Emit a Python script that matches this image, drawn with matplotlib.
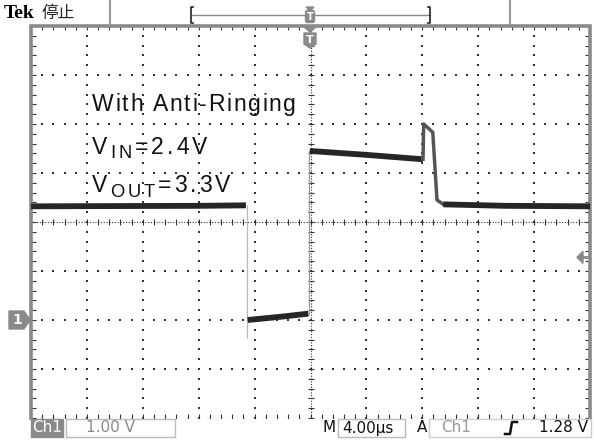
import numpy as np
import matplotlib
matplotlib.use('Agg')
import matplotlib.pyplot as plt
from matplotlib.patches import Rectangle, Polygon, FancyBboxPatch
from matplotlib import font_manager
from matplotlib.ft2font import FT2Font

# waveform (time in us, volts)
base_left_t = [-20.0, -8.0, -4.62]
base_left_v = [2.32, 2.33, 2.34]
fall_t = [-4.57, -4.57]
fall_v = [2.34, -0.37]
low_t = [-4.5, -2.0, -0.15]
low_v = [0.0, 0.07, 0.13]
rise_t = [-0.1, -0.1]
rise_v = [0.13, 3.45]
high_t = [-0.05, 4.0, 8.05]
high_v = [3.45, 3.37, 3.28]
spike_t = [8.05, 8.1, 8.75, 9.05, 9.5]
spike_v = [3.28, 4.0, 3.83, 2.45, 2.36]
base_right_t = [9.5, 14.0, 20.0]
base_right_v = [2.36, 2.33, 2.32]

t_div = 4.0     # us / div
v_div = 1.00    # V / div
trig_level = 1.28

W, H = 594, 443
fig = plt.figure(figsize=(W / 100, H / 100), dpi=100)
fig.patch.set_facecolor('white')

x0, x1, y0, y1 = 31, 590, 26, 418
ax = fig.add_axes([x0 / W, 1 - y1 / H, (x1 - x0) / W, (y1 - y0) / H])
ax.set_xlim(-5 * t_div, 5 * t_div)
ax.set_ylim(-2 * v_div, 6 * v_div)
ax.axis('off')

grid_c = '#333333'
minor_t = np.arange(-20, 20.01, t_div / 5)
minor_v = np.arange(-2, 6.01, v_div / 5)

# dotted graticule
for gt in np.arange(-16, 16.1, t_div):
    if abs(gt) < 1e-6:
        continue
    ax.scatter(np.full(len(minor_v), gt), minor_v, s=1.5, c=grid_c, marker='s', lw=0)
for gv in np.arange(-1, 5.1, v_div):
    if abs(gv - 2) < 1e-6:
        continue
    ax.scatter(minor_t, np.full(len(minor_t), gv), s=1.5, c=grid_c, marker='s', lw=0)

# centre crosshair
ax.plot([-20, 20], [2, 2], color=grid_c, lw=0.8, ls=(0, (1, 1.5)))
ax.plot([0, 0], [-2, 6], color=grid_c, lw=0.8, ls=(0, (1, 1.5)))
ax.scatter(minor_t, np.full(len(minor_t), 2), marker='|', s=22, c=grid_c, lw=0.8)
ax.scatter(np.zeros(len(minor_v)), minor_v, marker='_', s=22, c=grid_c, lw=0.8)

# border ticks
ax.scatter(minor_t, np.full(len(minor_t), 5.97), marker='|', s=14, c=grid_c, lw=0.8)
ax.scatter(minor_t, np.full(len(minor_t), -1.97), marker='|', s=14, c=grid_c, lw=0.8)
ax.plot([-20, 20], [-1.995, -1.995], color=grid_c, lw=0.8, ls=(0, (1, 1.5)))
ax.scatter(np.full(len(minor_v), -19.85), minor_v, marker='_', s=14, c=grid_c, lw=0.8)
ax.scatter(np.full(len(minor_v), 19.85), minor_v, marker='_', s=14, c=grid_c, lw=0.8)

# frame (left, top, right)
ax.plot([-20, -20, 20, 20], [-2, 6, 6, -2], color='#8a8a8a', lw=2.6, solid_joinstyle='miter',
        clip_on=False)

# trace
tr = '#262626'
ax.plot(base_left_t, base_left_v, color=tr, lw=4.2, solid_capstyle='butt')
ax.plot(fall_t, fall_v, color='#bbbbbb', lw=0.9)
ax.plot(low_t, low_v, color=tr, lw=4.2, solid_capstyle='butt')
ax.plot(rise_t, rise_v, color='#999999', lw=0.9)
ax.plot(high_t, high_v, color=tr, lw=4.2, solid_capstyle='butt')
ax.plot(spike_t, spike_v, color='#555555', lw=2.5)
ax.plot(base_right_t, base_right_v, color=tr, lw=4.2, solid_capstyle='butt')

# overlay in pixel coordinates for screen decorations
ov = fig.add_axes([0, 0, 1, 1], zorder=5)
ov.set_xlim(0, W)
ov.set_ylim(H, 0)
ov.axis('off')
ov.patch.set_alpha(0)

ft = FT2Font(font_manager.findfont('Liberation Sans'))


def spaced_text(x, y, pieces, size, gap):
    # pieces: list of (string, is_subscript); letters placed one by one with tracking
    cx = x
    for s, sub in pieces:
        fs = size * 0.8 if sub else size
        ft.set_size(fs, 100)
        for ch in s:
            adv = ft.load_char(ord(ch)).linearHoriAdvance / 65536
            if ch != ' ':
                ov.text(cx + adv / 2, y + (6 if sub else 0), ch, fontsize=fs,
                        family='Liberation Sans', color='#111111', va='center', ha='center')
            cx += adv + gap


spaced_text(92, 104, [('With Anti-Ringing', False)], 16.5, 1.7)
spaced_text(92, 147, [('V', False), ('IN', True), ('=2.4V', False)], 16.5, 3.0)
spaced_text(92, 186, [('V', False), ('OUT', True), ('=3.3V', False)], 16.5, 3.0)

# header
ov.text(4, 13, 'Tek', fontsize=14, family='Liberation Serif', weight='bold', va='center', ha='left')
ov.text(41, 13, '停止', fontsize=12, family=['Noto Sans CJK SC', 'DejaVu Sans'],
        va='center', ha='left', color='#222222')
for xv in (110, 510):
    ov.plot([xv, xv], [1, 24], color='#999999', lw=1.5)
ov.plot([191, 430], [15, 15], color='#888888', lw=1)
ov.plot([193, 191, 191, 193], [7, 7, 23, 23], color='#222222', lw=1.2)
ov.plot([428, 430, 430, 428], [7, 7, 23, 23], color='#222222', lw=1.2)
ov.add_patch(Polygon([[306, 7], [314, 7], [310, 11]], color='#8a8a8a'))
ov.add_patch(FancyBboxPatch((306, 11), 8, 11, boxstyle='round,pad=0.5,rounding_size=2',
                            color='#8a8a8a'))
ov.text(310, 16.5, 'T', fontsize=7, color='white', weight='bold', ha='center', va='center')
ov.add_patch(Polygon([[304, 27], [316, 27], [310, 32]], color='#8a8a8a'))
ov.add_patch(Polygon([[304, 33], [316, 33], [316, 44], [310, 48], [304, 44]], color='#8a8a8a'))
ov.text(310, 40, 'T', fontsize=8, color='white', weight='bold', ha='center', va='center')

# channel ground marker and trigger level arrow
gy = 418 - (0 + 2) * 49
ov.add_patch(Polygon([[9, gy - 9], [24, gy - 9], [30, gy], [24, gy + 9], [9, gy + 9]],
                     color='#8a8a8a'))
ov.text(17, gy, '1', fontsize=10, color='white', weight='bold', ha='center', va='center')
ty = 418 - (trig_level + 2) * 49
ov.add_patch(Polygon([[577, ty], [583, ty - 6], [583, ty + 6]], color='#8a8a8a'))
ov.plot([582, 587], [ty, ty], color='#8a8a8a', lw=2)

# status bar
sb = 428
ov.add_patch(Rectangle((31, 419), 32, 18, color='#8a8a8a'))
ov.text(47, sb, 'Ch1', fontsize=11, color='white', ha='center', va='center')
ov.add_patch(Rectangle((66, 419), 109, 18, fill=False, ec='#bbbbbb', lw=1))
ov.text(86, sb, '1.00 V', fontsize=11, color='#8a8a8a', ha='left', va='center')
ov.text(323, sb, 'M', fontsize=11, color='#111111', ha='left', va='center')
ov.add_patch(Rectangle((338, 419), 67, 18, fill=False, ec='#bbbbbb', lw=1))
ov.text(342, sb, '4.00µs', fontsize=11, color='#111111', ha='left', va='center')
ov.text(417, sb, 'A', fontsize=11, color='#111111', ha='left', va='center')
ov.add_patch(Rectangle((429, 419), 162, 18, fill=False, ec='#cccccc', lw=1))
ov.text(441, sb, 'Ch1', fontsize=11, color='#999999', ha='left', va='center')
ov.plot([505, 510, 512, 517], [434, 434, 422, 422], color='#111111', lw=1.8)
ov.text(588, sb, '1.28 V', fontsize=11, color='#111111', ha='right', va='center')

fig.savefig('out.png', dpi=100, facecolor='white')
